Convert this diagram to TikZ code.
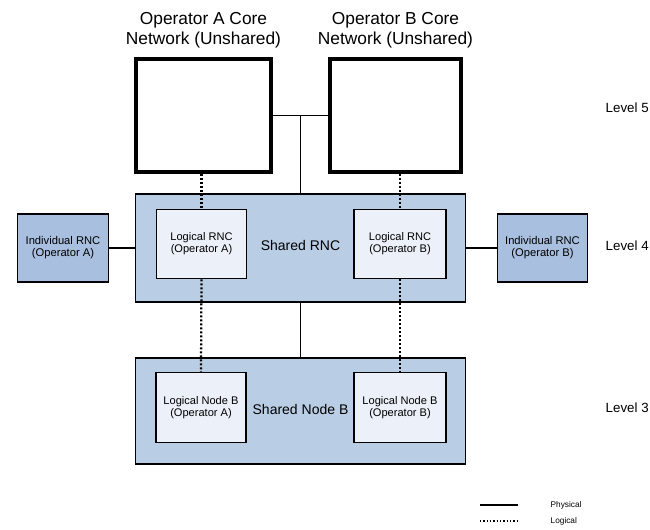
\documentclass[tikz,border=0pt]{standalone}
\usepackage{fontspec}
\setmainfont{Liberation Sans}
\definecolor{sharedblue}{RGB}{185,205,229}
\definecolor{indivblue}{RGB}{168,191,223}
\definecolor{logicfill}{RGB}{236,241,249}
\tikzset{
  corebox/.style={draw, line width=2.6pt, minimum width=#1, minimum height=85pt},
  sharedbox/.style={draw, line width=0.9pt, fill=sharedblue, minimum width=248pt},
  logicbox/.style={draw, line width=0.9pt, fill=logicfill, minimum height=52pt,
    align=center, font=\fontsize{8.3}{9}\selectfont},
  indivbox/.style={draw, line width=0.9pt, fill=indivblue, minimum width=68pt, minimum height=51pt,
    align=center, font=\fontsize{8.4}{9}\selectfont},
  logical/.style={line width=1.7pt, dash pattern=on 1.5pt off 1.5pt},
  physical/.style={line width=0.8pt},
  levellabel/.style={anchor=west, font=\fontsize{10}{12}\selectfont}
}
\begin{document}
\begin{tikzpicture}[x=0.75pt, y=-0.75pt]
      \useasboundingbox (0,0) rectangle (650,530);
      % level 5: core networks
      \node[corebox=101pt] (coreA) at (203.5,115.5) {};
      \node[corebox=98pt] (coreB) at (395.5,115.5) {};
      \node[align=center, font=\fontsize{13}{15}\selectfont] (titleA) at (203.5,30) {Operator A Core\\Network (Unshared)};
      \node[align=center, font=\fontsize{13}{15}\selectfont] (titleB) at (395.5,30) {Operator B Core\\Network (Unshared)};
      % level 4: RNCs
      \node[sharedbox, minimum height=81pt] (sRNC) at (300.5,248) {};
      \node[font=\fontsize{10.5}{12}\selectfont] (sRNClabel) at (300.5,246) {Shared RNC};
      \node[logicbox, minimum width=68pt] (lRNCA) at (201.5,244) {Logical RNC\\(Operator A)};
      \node[logicbox, minimum width=69pt] (lRNCB) at (400,244) {Logical RNC\\(Operator B)};
      \node[indivbox] (iRNCA) at (63,248) {Individual RNC\\(Operator A)};
      \node[indivbox] (iRNCB) at (542.5,248) {Individual RNC\\(Operator B)};
      % level 3: node Bs
      \node[sharedbox, minimum height=79.5pt] (sNB) at (300.5,411) {};
      \node[font=\fontsize{10.5}{12}\selectfont] (sNBlabel) at (300.5,409) {Shared Node B};
      \node[logicbox, minimum width=67.5pt] (lNBA) at (201,407.5) {Logical Node B\\(Operator A)};
      \node[logicbox, minimum width=69pt] (lNBB) at (400,407.5) {Logical Node B\\(Operator B)};
      % physical links
      \coordinate (junc) at (300.5,115.5);
      \draw[physical] (coreA) -- (coreB);
      \draw[physical] (junc) -- (sRNC.north);
      \draw[physical] (iRNCA) -- (sRNC.west |- iRNCA);
      \draw[physical] (sRNC.east |- iRNCB) -- (iRNCB);
      \draw[physical] (sRNC.south) -- (sNB.north);
      % logical links
      \draw[logical] (lRNCA.north |- coreA.south) -- (lRNCA.north);
      \draw[logical] (lRNCB.north |- coreB.south) -- (lRNCB.north);
      \draw[logical] (lRNCA.south) -- (lNBA.north);
      \draw[logical] (lRNCB.south) -- (lNBB.north);
      % levels
      \node[levellabel] (lev5) at (601,108) {Level 5};
      \node[levellabel] (lev4) at (601,246) {Level 4};
      \node[levellabel] (lev3) at (601,408) {Level 3};
      % legend
      \coordinate (physA) at (480,505);
      \coordinate (physB) at (518,505);
      \coordinate (logA) at (480,521);
      \coordinate (logB) at (518,521);
      \draw[physical] (physA) -- (physB);
      \draw[line width=1.1pt, dash pattern=on 1.1pt off 1.4pt] (logA) -- (logB);
      \node[anchor=west, font=\fontsize{6.2}{7}\selectfont] (physlabel) at (546,505) {Physical};
      \node[anchor=west, font=\fontsize{6.2}{7}\selectfont] (loglabel) at (546,521) {Logical};
    \end{tikzpicture}
\end{document}
